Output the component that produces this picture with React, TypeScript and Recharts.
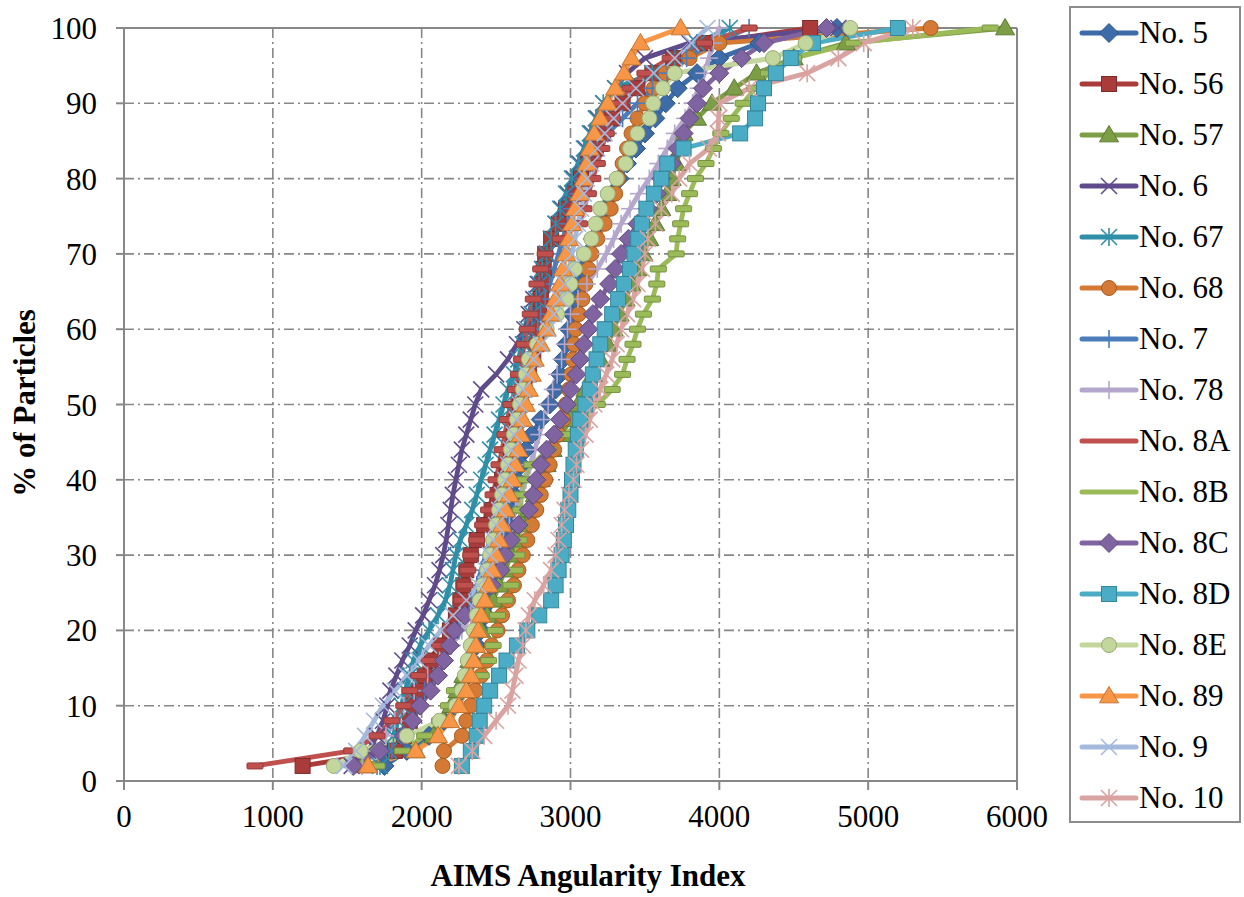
import React from 'react';
import { LineChart, Line, XAxis, YAxis, CartesianGrid, ReferenceLine } from 'recharts';

// cumulative % of particles (y) for each recorded point
const PCT = [2, 4, 6, 8, 10, 12, 14, 16, 18, 20, 22, 24, 26, 28, 30, 32, 34, 36, 38, 40, 42, 44, 46, 48, 50,
  52, 54, 56, 58, 60, 62, 64, 66, 68, 70, 72, 74, 76, 78, 80, 82, 84, 86, 88, 90, 92, 94, 96, 98, 100];

const X_TICKS = [0, 1000, 2000, 3000, 4000, 5000, 6000];
const Y_TICKS = [0, 10, 20, 30, 40, 50, 60, 70, 80, 90, 100];

// AIMS angularity index values at each PCT level
const no5 = [1750, 1900, 2050, 2150, 2220, 2270, 2310, 2340, 2370, 2400, 2430, 2460, 2490, 2520, 2540, 2560, 2580, 2600, 2620, 2640,
  2670, 2700, 2740, 2800, 2860, 2900, 2930, 2950, 2970, 2990, 3010, 3030, 3050, 3080, 3110, 3150, 3190, 3230, 3280, 3330,
  3380, 3440, 3500, 3570, 3640, 3720, 3850, 4000, 4270, 4790];
const no56 = [1200, 1820, 1880, 1920, 1950, 1980, 2020, 2070, 2130, 2190, 2230, 2260, 2280, 2300, 2330, 2370, 2420, 2470, 2510, 2540,
  2570, 2600, 2620, 2640, 2660, 2690, 2720, 2750, 2770, 2780, 2790, 2800, 2810, 2820, 2830, 2870, 2920, 2970, 3020, 3070,
  3120, 3170, 3220, 3280, 3350, 3450, 3550, 3690, 3900, 4610];
const no57 = [1600, 1960, 2080, 2150, 2200, 2240, 2280, 2320, 2360, 2400, 2440, 2480, 2520, 2560, 2600, 2640, 2680, 2720, 2760, 2800,
  2840, 2880, 2940, 3000, 3050, 3100, 3150, 3200, 3250, 3290, 3330, 3370, 3410, 3450, 3490, 3530, 3570, 3610, 3650, 3680,
  3710, 3740, 3760, 3850, 3950, 4100, 4250, 4500, 4850, 5920];
const no6 = [1530, 1640, 1700, 1740, 1770, 1790, 1830, 1870, 1920, 1960, 2010, 2050, 2090, 2120, 2145, 2165, 2180, 2195, 2210, 2230,
  2250, 2270, 2300, 2330, 2360, 2400, 2500, 2580, 2640, 2690, 2720, 2750, 2780, 2810, 2840, 2870, 2900, 2940, 2980, 3020,
  3060, 3100, 3140, 3180, 3220, 3300, 3380, 3500, 3800, 4800];
const no67 = [1720, 1780, 1810, 1840, 1865, 1890, 1920, 1945, 1990, 2050, 2110, 2160, 2190, 2210, 2230, 2260, 2300, 2340, 2370, 2400,
  2430, 2460, 2490, 2520, 2550, 2580, 2620, 2650, 2680, 2710, 2740, 2770, 2790, 2810, 2840, 2870, 2900, 2930, 2970, 3010,
  3050, 3090, 3130, 3170, 3220, 3300, 3550, 3700, 3850, 4070];
const no68 = [2140, 2150, 2270, 2300, 2330, 2360, 2400, 2440, 2470, 2510, 2540, 2580, 2620, 2650, 2680, 2710, 2740, 2770, 2800, 2830,
  2860, 2890, 2920, 2950, 2970, 2990, 3005, 3015, 3025, 3035, 3055, 3080, 3100, 3120, 3140, 3180, 3230, 3270, 3300, 3320,
  3350, 3380, 3410, 3450, 3500, 3560, 3640, 3800, 4000, 5420];
const no7 = [1700, 1800, 1870, 1920, 1970, 2020, 2080, 2140, 2200, 2250, 2290, 2330, 2370, 2400, 2430, 2460, 2490, 2520, 2550, 2580,
  2600, 2620, 2640, 2660, 2680, 2700, 2720, 2740, 2760, 2780, 2800, 2830, 2860, 2890, 2920, 2950, 2980, 3010, 3050, 3090,
  3130, 3180, 3250, 3350, 3450, 3550, 3650, 3780, 3950, 4200];
const no78 = [1600, 1700, 1760, 1820, 1880, 1950, 2040, 2120, 2200, 2270, 2330, 2380, 2430, 2470, 2510, 2550, 2590, 2630, 2670, 2700,
  2730, 2760, 2790, 2820, 2850, 2880, 2910, 2940, 2960, 2980, 3000, 3050, 3110, 3180, 3240, 3290, 3340, 3400, 3460, 3530,
  3590, 3650, 3700, 3770, 3820, 3860, 3900, 3930, 3960, 4000];
const no8A = [880, 1530, 1700, 1800, 1880, 1920, 1980, 2050, 2120, 2190, 2240, 2270, 2290, 2310, 2330, 2370, 2410, 2450, 2480, 2500,
  2520, 2540, 2560, 2575, 2600, 2630, 2650, 2670, 2690, 2710, 2730, 2750, 2775, 2800, 2830, 2930, 3060, 3090, 3120, 3150,
  3180, 3210, 3240, 3280, 3330, 3400, 3500, 3670, 3900, 4200];
const no8B = [1700, 1870, 2020, 2120, 2180, 2220, 2400, 2450, 2480, 2495, 2510, 2560, 2600, 2630, 2640, 2655, 2660, 2665, 2670, 2680,
  2740, 2850, 2970, 3080, 3180, 3280, 3350, 3380, 3420, 3450, 3490, 3550, 3580, 3590, 3710, 3720, 3740, 3760, 3800, 3840,
  3910, 3960, 4010, 4080, 4160, 4240, 4330, 4500, 4900, 5820];
const no8C = [1540, 1720, 1880, 1940, 1990, 2060, 2110, 2150, 2190, 2220, 2290, 2390, 2470, 2530, 2560, 2600, 2650, 2720, 2750, 2770,
  2800, 2840, 2890, 2930, 2975, 3000, 3040, 3065, 3090, 3120, 3150, 3200, 3260, 3300, 3340, 3390, 3450, 3520, 3580, 3610,
  3680, 3720, 3760, 3800, 3850, 3890, 4000, 4150, 4300, 4720];
const no8D = [2270, 2330, 2370, 2390, 2420, 2460, 2520, 2570, 2640, 2710, 2790, 2870, 2900, 2920, 2940, 2955, 2970, 2985, 3000, 3010,
  3020, 3035, 3050, 3065, 3100, 3130, 3150, 3175, 3200, 3230, 3280, 3320, 3360, 3400, 3430, 3455, 3480, 3510, 3560, 3610,
  3650, 3760, 4140, 4240, 4260, 4300, 4380, 4480, 4630, 5200];
const no8E = [1410, 1590, 1900, 2120, 2230, 2270, 2290, 2310, 2330, 2350, 2370, 2390, 2410, 2440, 2460, 2480, 2500, 2520, 2540, 2560,
  2580, 2600, 2620, 2640, 2660, 2680, 2700, 2720, 2775, 2840, 2910, 2975, 3000, 3030, 3090, 3140, 3170, 3200, 3250, 3310,
  3370, 3400, 3450, 3530, 3555, 3620, 3700, 4360, 4580, 4880];
const no89 = [1640, 1960, 2110, 2190, 2250, 2300, 2330, 2350, 2365, 2380, 2400, 2425, 2450, 2475, 2500, 2520, 2540, 2565, 2590, 2610,
  2630, 2650, 2665, 2680, 2700, 2720, 2740, 2760, 2800, 2840, 2870, 2900, 2930, 2950, 2970, 2990, 3010, 3030, 3060, 3090,
  3110, 3130, 3160, 3200, 3250, 3300, 3360, 3410, 3470, 3740];
const no9 = [1480, 1560, 1620, 1680, 1740, 1820, 1900, 1980, 2050, 2130, 2210, 2300, 2380, 2430, 2460, 2480, 2500, 2520, 2540, 2560,
  2580, 2600, 2620, 2640, 2660, 2680, 2710, 2750, 2800, 2850, 2890, 2930, 2960, 2990, 3010, 3030, 3050, 3070, 3090, 3110,
  3140, 3180, 3230, 3290, 3350, 3440, 3560, 3700, 3810, 3920];
const no10 = [2250, 2340, 2420, 2500, 2580, 2610, 2630, 2650, 2680, 2700, 2720, 2760, 2820, 2870, 2900, 2920, 2940, 2960, 2990, 3020,
  3040, 3070, 3100, 3130, 3160, 3200, 3240, 3280, 3310, 3340, 3380, 3420, 3450, 3480, 3500, 3520, 3570, 3610, 3680, 3730,
  3800, 3930, 3990, 3995, 4000, 4200, 4590, 4800, 4970, 5300];

const NAMES = ['No. 5', 'No. 56', 'No. 57', 'No. 6', 'No. 67', 'No. 68', 'No. 7', 'No. 78',
  'No. 8A', 'No. 8B', 'No. 8C', 'No. 8D', 'No. 8E', 'No. 89', 'No. 9', 'No. 10'];
const VALUES = [no5, no56, no57, no6, no67, no68, no7, no78, no8A, no8B, no8C, no8D, no8E, no89, no9, no10];

type Shape = 'diamond' | 'square' | 'triangle' | 'x' | 'asterisk' | 'circle' | 'plus' | 'dash';
const SHAPES: Shape[] = ['diamond', 'square', 'triangle', 'x', 'asterisk', 'circle', 'plus', 'plus',
  'dash', 'dash', 'diamond', 'square', 'circle', 'triangle', 'x', 'asterisk'];
const COLORS = ['#3D6CA8', '#A93C3A', '#7C9E46', '#5F4B8B', '#2F8FA8', '#D47A34', '#4A7DBA', '#B4A7CB',
  '#C0504D', '#9BBB59', '#8064A2', '#4BACC6', '#C3D69B', '#F79646', '#A5B9DC', '#D9A3A1'];
const EDGES = ['#2E5484', '#7E2C2A', '#5E7A33', '#473766', '#20697C', '#A65B22', '#37609A', '#8C7FA6',
  '#933B39', '#769143', '#614A7E', '#35869B', '#98AC74', '#C7732F', '#7F95BD', '#B07E7C'];

const FONT = '"Liberation Serif", "Times New Roman", serif';
const GRID = '#878787';

function Marker({ cx, cy, shape, color, edge }: { cx: number; cy: number; shape: Shape; color: string; edge: string }) {
  if (cx == null || cy == null || isNaN(cx) || isNaN(cy)) return null;
  switch (shape) {
    case 'diamond': {
      const r = 9.5;
      return <polygon points={`${cx},${cy - r} ${cx + r},${cy} ${cx},${cy + r} ${cx - r},${cy}`} fill={color} stroke={edge} strokeWidth={1} />;
    }
    case 'square':
      return <rect x={cx - 7.5} y={cy - 7.5} width={15} height={15} fill={color} stroke={edge} strokeWidth={1} />;
    case 'triangle': {
      const r = 9.5;
      return <polygon points={`${cx},${cy - r} ${cx + r},${cy + r * 0.72} ${cx - r},${cy + r * 0.72}`} fill={color} stroke={edge} strokeWidth={1} />;
    }
    case 'circle':
      return <circle cx={cx} cy={cy} r={7.5} fill={color} stroke={edge} strokeWidth={1} />;
    case 'x': {
      const r = 8;
      return (
        <g stroke={color} strokeWidth={1.6}>
          <line x1={cx - r} y1={cy - r} x2={cx + r} y2={cy + r} />
          <line x1={cx - r} y1={cy + r} x2={cx + r} y2={cy - r} />
        </g>
      );
    }
    case 'asterisk': {
      const r = 8;
      return (
        <g stroke={color} strokeWidth={1.6}>
          <line x1={cx - r} y1={cy - r} x2={cx + r} y2={cy + r} />
          <line x1={cx - r} y1={cy + r} x2={cx + r} y2={cy - r} />
          <line x1={cx} y1={cy - r - 1} x2={cx} y2={cy + r + 1} />
        </g>
      );
    }
    case 'plus': {
      const r = 9;
      return (
        <g stroke={color} strokeWidth={1.6}>
          <line x1={cx} y1={cy - r} x2={cx} y2={cy + r} />
          <line x1={cx - r} y1={cy} x2={cx + r} y2={cy} />
        </g>
      );
    }
    case 'dash':
      return <rect x={cx - 8} y={cy - 3} width={16} height={6} rx={1} fill={color} stroke={edge} strokeWidth={1} />;
  }
  return null;
}

const SERIES = NAMES.map((name, i) => ({
  name,
  color: COLORS[i],
  edge: EDGES[i],
  shape: SHAPES[i],
  data: PCT.map((p, j) => ({ x: VALUES[i][j], y: p })),
}));

function LegendBox() {
  return (
    <div
      style={{
        position: 'absolute', left: 1069, top: 6, width: 172, height: 817,
        border: '2px solid #8c8c8c', boxSizing: 'border-box', background: '#fff',
      }}
    >
      {SERIES.map((s, i) => (
        <div key={s.name} style={{ position: 'absolute', left: 0, top: 25 + 51 * i - 20, height: 40, display: 'flex', alignItems: 'center' }}>
          <svg width={70} height={40} style={{ display: 'block' }}>
            <line x1={11} y1={20} x2={65} y2={20} stroke={s.color} strokeWidth={5} strokeLinecap="round" />
            {s.shape !== 'dash' && <Marker cx={38} cy={20} shape={s.shape} color={s.color} edge={s.edge} />}
          </svg>
          <span style={{ fontFamily: FONT, fontSize: 31, color: '#000', lineHeight: '40px', marginLeft: -2, whiteSpace: 'nowrap' }}>{s.name}</span>
        </div>
      ))}
    </div>
  );
}

export default function App() {
  return (
    <div style={{ position: 'absolute', left: 0, top: 0, width: 1244, height: 897, background: '#fff' }}>
      <LineChart width={1244} height={897} margin={{ top: 28, right: 227, bottom: 56, left: 0 }}>
        <CartesianGrid stroke={GRID} strokeWidth={1.6} strokeDasharray="10 4 2 4" />
        <XAxis
          dataKey="x"
          type="number"
          domain={[0, 6000]}
          ticks={X_TICKS}
          interval={0}
          allowDuplicatedCategory={false}
          height={60}
          tickSize={9}
          tickMargin={15}
          axisLine={{ stroke: GRID, strokeWidth: 2 }}
          tickLine={{ stroke: GRID, strokeWidth: 2 }}
          tick={{ fill: '#000', fontSize: 31, fontFamily: FONT }}
        />
        <YAxis
          dataKey="y"
          type="number"
          domain={[0, 100]}
          ticks={Y_TICKS}
          interval={0}
          width={124}
          tickSize={8}
          tickMargin={19}
          axisLine={{ stroke: GRID, strokeWidth: 2 }}
          tickLine={{ stroke: GRID, strokeWidth: 2 }}
          tick={{ fill: '#000', fontSize: 31, fontFamily: FONT }}
        />
        <ReferenceLine y={100} stroke={GRID} strokeWidth={2} />
        <ReferenceLine x={6000} stroke={GRID} strokeWidth={2} />
        {SERIES.map((s) => (
          <Line
            key={s.name}
            data={s.data}
            dataKey="y"
            name={s.name}
            type="linear"
            stroke={s.color}
            strokeWidth={4.8}
            strokeLinecap="round"
            strokeLinejoin="round"
            isAnimationActive={false}
            dot={(p: any) => (
              <Marker key={`${s.name}-${p.index}`} cx={p.cx} cy={p.cy} shape={s.shape} color={s.color} edge={s.edge} />
            )}
            activeDot={false}
          />
        ))}
      </LineChart>
      <div
        style={{
          position: 'absolute', left: 25, top: 403, transform: 'translate(-50%, -50%) rotate(-90deg)',
          fontFamily: FONT, fontSize: 31, fontWeight: 'bold', whiteSpace: 'nowrap', color: '#000',
        }}
      >
        % of Particles
      </div>
      <div
        style={{
          position: 'absolute', left: 588, top: 876, transform: 'translate(-50%, -50%)',
          fontFamily: FONT, fontSize: 31, fontWeight: 'bold', whiteSpace: 'nowrap', color: '#000',
        }}
      >
        AIMS Angularity Index
      </div>
      <LegendBox />
    </div>
  );
}
